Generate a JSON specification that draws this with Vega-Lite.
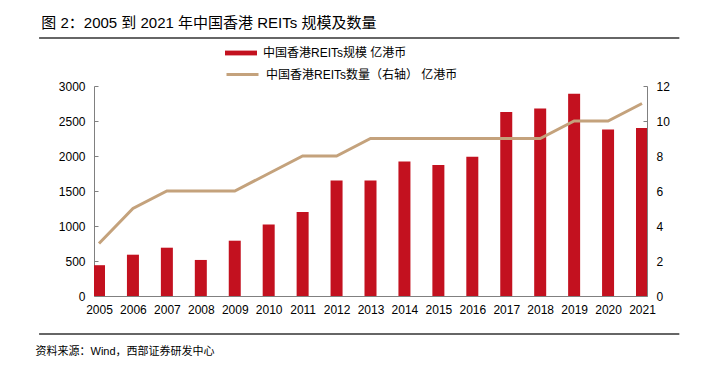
{
  "$schema": "https://vega.github.io/schema/vega-lite/v6.json",
  "width": 553,
  "height": 210,
  "autosize": {"type": "none"},
  "padding": {"left": 94, "top": 86, "right": 55, "bottom": 74},
  "background": "white",
  "config": {
    "view": {"stroke": null},
    "font": "Liberation Sans, Noto Sans CJK SC",
    "axis": {"labelFont": "Liberation Sans, Noto Sans CJK SC", "titleFont": "Liberation Sans, Noto Sans CJK SC", "labelOverlap": false}
  },
  "data": {
    "values": [
      {"year": 2005, "scale": 440, "count": 3},
      {"year": 2006, "scale": 590, "count": 5},
      {"year": 2007, "scale": 690, "count": 6},
      {"year": 2008, "scale": 515, "count": 6},
      {"year": 2009, "scale": 790, "count": 6},
      {"year": 2010, "scale": 1020, "count": 7},
      {"year": 2011, "scale": 1200, "count": 8},
      {"year": 2012, "scale": 1650, "count": 8},
      {"year": 2013, "scale": 1650, "count": 9},
      {"year": 2014, "scale": 1920, "count": 9},
      {"year": 2015, "scale": 1870, "count": 9},
      {"year": 2016, "scale": 1990, "count": 9},
      {"year": 2017, "scale": 2630, "count": 9},
      {"year": 2018, "scale": 2680, "count": 9},
      {"year": 2019, "scale": 2890, "count": 10},
      {"year": 2020, "scale": 2380, "count": 10},
      {"year": 2021, "scale": 2400, "count": 11}
    ]
  },
  "layer": [
    {
      "mark": {"type": "bar", "width": 12, "clip": true},
      "encoding": {
        "x": {
          "field": "year", "type": "quantitative",
          "scale": {"domain": [2005, 2021], "nice": false, "zero": false},
          "axis": {
            "values": [2005,2006,2007,2008,2009,2010,2011,2012,2013,2014,2015,2016,2017,2018,2019,2020,2021],
            "format": "d", "grid": false, "labelFontSize": 12, "labelColor": "#000000",
            "domainColor": "#808080", "tickColor": "#333333", "tickSize": -4, "labelPadding": 12,
            "labelFlush": false, "labelOverlap": false, "labelBound": false,
            "title": "资料来源：Wind，西部证券研发中心",
            "titleAnchor": "start", "titleX": -59, "titleY": 58, "titleFontSize": 11,
            "titleFontWeight": "normal", "titleColor": "#000000", "titleBaseline": "alphabetic", "titleAlign": "left"
          }
        },
        "y": {
          "field": "scale", "type": "quantitative",
          "scale": {"domain": [0, 3000], "nice": false},
          "axis": {
            "values": [0,500,1000,1500,2000,2500,3000], "format": "d", "grid": false, "title": null,
            "labelFontSize": 12, "labelColor": "#000000", "domainColor": "#808080",
            "tickColor": "#808080", "tickSize": -4, "labelPadding": 13
          }
        },
        "fill": {
          "datum": "中国香港REITs规模 亿港币", "type": "nominal",
          "scale": {"range": ["#C3111F"]},
          "legend": {
            "orient": "none", "legendX": 131, "legendY": -49, "title": null, "padding": 0,
            "symbolType": "M-1,-0.15H1V0.15H-1Z", "symbolSize": 1024, "symbolStrokeWidth": 0,
            "labelFontSize": 12, "labelColor": "#000000", "labelOffset": 6, "labelLimit": 400,
            "labelFont": "Liberation Sans, Noto Sans CJK SC"
          }
        }
      }
    },
    {
      "mark": {"type": "line", "strokeWidth": 3, "clip": true},
      "encoding": {
        "x": {"field": "year", "type": "quantitative", "scale": {"domain": [2005, 2021], "nice": false, "zero": false}, "axis": null},
        "y": {
          "field": "count", "type": "quantitative",
          "scale": {"domain": [0, 12], "nice": false},
          "axis": {
            "orient": "right", "values": [0,2,4,6,8,10,12], "grid": false, "title": null,
            "labelFontSize": 12, "labelColor": "#000000", "domainColor": "#808080",
            "tickColor": "#808080", "tickSize": -4, "labelPadding": 13
          }
        },
        "stroke": {
          "datum": "中国香港REITs数量（右轴） 亿港币", "type": "nominal",
          "scale": {"range": ["#C4A27C"]},
          "legend": {
            "orient": "none", "legendX": 131, "legendY": -29, "title": null, "padding": 0,
            "symbolType": "M-1,0H1", "symbolSize": 1024, "symbolStrokeWidth": 3,
            "labelFontSize": 12, "labelColor": "#000000", "labelOffset": 6, "labelLimit": 400,
            "labelFont": "Liberation Sans, Noto Sans CJK SC"
          }
        }
      }
    },
    {
      "data": {"values": [{"line": "top"}]},
      "mark": {"type": "rule", "clip": false, "color": "#333333", "strokeWidth": 1.5},
      "encoding": {
        "x": {"datum": 2003.235, "type": "quantitative", "scale": {"domain": [2005, 2021], "nice": false, "zero": false}, "axis": null},
        "x2": {"datum": 2022.1},
        "y": {"datum": 3686, "type": "quantitative", "scale": {"domain": [0, 3000], "nice": false}, "axis": null}
      }
    },
    {
      "data": {"values": [{"line": "bottom"}]},
      "mark": {"type": "rule", "clip": false, "color": "#333333", "strokeWidth": 1.5},
      "encoding": {
        "x": {"datum": 2003.235, "type": "quantitative", "scale": {"domain": [2005, 2021], "nice": false, "zero": false}, "axis": null},
        "x2": {"datum": 2022.1},
        "y": {"datum": -543, "type": "quantitative", "scale": {"domain": [0, 3000], "nice": false}, "axis": null}
      }
    },
    {
      "data": {"values": [{"label": "title"}]},
      "mark": {"type": "text", "clip": false, "align": "left", "baseline": "alphabetic", "fontSize": 15, "fontWeight": "normal", "color": "#000000", "font": "Liberation Sans, Noto Sans CJK SC"},
      "encoding": {
        "x": {"datum": 2003.3, "type": "quantitative", "scale": {"domain": [2005, 2021], "nice": false, "zero": false}, "axis": null},
        "y": {"datum": 3829, "type": "quantitative", "scale": {"domain": [0, 3000], "nice": false}, "axis": null},
        "text": {"value": "图 2：2005 到 2021 年中国香港 REITs 规模及数量"}
      }
    }
  ],
  "resolve": {"scale": {"y": "independent", "fill": "independent", "stroke": "independent"}, "axis": {"x": "independent"}}
}
